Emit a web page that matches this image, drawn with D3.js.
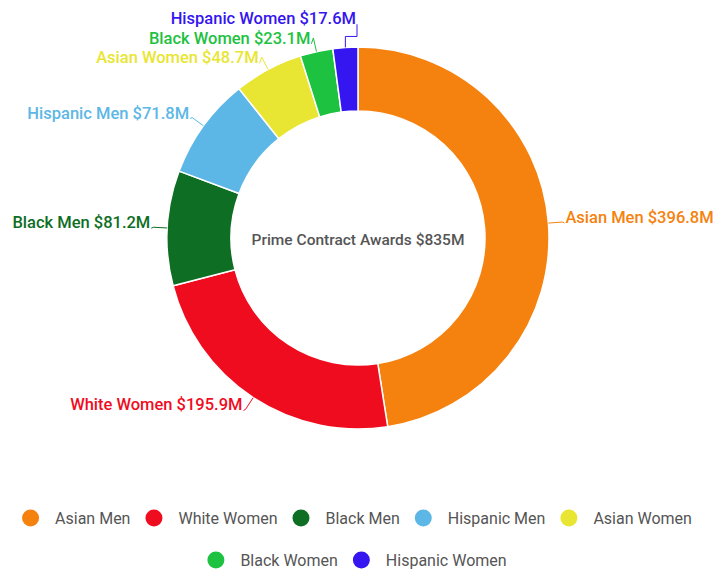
<!DOCTYPE html>
<html>
<head>
<meta charset="utf-8">
<script src="https://cdn.jsdelivr.net/npm/d3@7"></script>
<style>
  body { margin: 0; background: #fff; }
  svg { display: block; font-family: Roboto, "Noto Sans", sans-serif; }
</style>
</head>
<body>
<div id="chart"></div>
<script>
var groups = ["Asian Men", "White Women", "Black Men", "Hispanic Men", "Asian Women", "Black Women", "Hispanic Women"];
var awards = [396.8, 195.9, 81.2, 71.8, 48.7, 23.1, 17.6];
var colors = ["#f5820f", "#f00c1f", "#0e6e23", "#5db7e6", "#e8e632", "#1dc240", "#3516f0"];
var centerTitle = "Prime Contract Awards $835M";

var width = 714, height = 572;
var cx = 358, cy = 238;
var outerR = 191, innerR = 127, labelR = 205;

var svg = d3.select('#chart').append('svg')
	.attr('width', width).attr('height', height);

var color = d3.scaleOrdinal().domain(groups).range(colors);

var pie = d3.pie().sort(null).value(function(d) { return d.value; });
var arcs = pie(groups.map(function(g, i) { return {name: g, value: awards[i]}; }));
var arc = d3.arc().innerRadius(innerR).outerRadius(outerR);

var g = svg.append('g').attr('transform', 'translate(' + cx + ',' + cy + ')');

g.selectAll('path.slice').data(arcs).enter().append('path')
	.attr('class', 'slice')
	.attr('d', arc)
	.attr('fill', function(d) { return color(d.data.name); })
	.attr('stroke', '#fff')
	.attr('stroke-width', 1.5);

g.append('text')
	.attr('text-anchor', 'middle')
	.attr('y', 7)
	.attr('fill', '#555')
	.style('font-size', '15.5px')
	.style('font-weight', 500)
	.text(centerTitle);

// label anchors
var labels = arcs.map(function(d) {
	var a = (d.startAngle + d.endAngle) / 2;
	var p1 = [outerR * Math.sin(a), -outerR * Math.cos(a)];
	var p2 = [labelR * Math.sin(a), -labelR * Math.cos(a)];
	return {d: d, a: a, p1: p1, p2: p2, right: Math.sin(a) >= 0, y: p2[1] + 1};
});

// spread overlapping labels on each side, clusters centred on their anchors
var gap = 19.5;
[true, false].forEach(function(side) {
	var ls = labels.filter(function(l) { return l.right === side; })
		.sort(function(a, b) { return a.y - b.y; });
	var clusters = ls.map(function(l) { return {items: [l], mean: l.y}; });
	var merged = true;
	while (merged) {
		merged = false;
		for (var i = 0; i < clusters.length - 1; i++) {
			var c = clusters[i], n = clusters[i + 1];
			var cEnd = c.mean + (c.items.length - 1) * gap / 2;
			var nStart = n.mean - (n.items.length - 1) * gap / 2;
			if (nStart - cEnd < gap) {
				var items = c.items.concat(n.items);
				clusters.splice(i, 2, {items: items, mean: d3.mean(items, function(l) { return l.p2[1] + 1; })});
				merged = true;
				break;
			}
		}
	}
	clusters.forEach(function(c) {
		var start = c.mean - (c.items.length - 1) * gap / 2;
		c.items.forEach(function(l, i) { l.y = start + i * gap; });
	});
});

labels.forEach(function(l) {
	var pushedAbove = Math.abs(l.y) > labelR && l.y < 0;
	l.x = pushedAbove ? -1 : l.p2[0] + (l.right ? 2 : -2);
	var pts;
	if (pushedAbove) {
		pts = [l.p1, [l.p1[0], l.p2[1] + 3], [l.x, l.p2[1] + 3], [l.x, l.y]];
	} else {
		pts = [l.p1, l.p2, [l.x, l.y]];
	}
	l.pts = pts;
});

g.selectAll('polyline.leader').data(labels).enter().append('polyline')
	.attr('class', 'leader')
	.attr('points', function(l) { return l.pts.map(function(p) { return p.join(','); }).join(' '); })
	.attr('fill', 'none')
	.attr('stroke', function(l) { return color(l.d.data.name); })
	.attr('stroke-width', 1);

g.selectAll('text.label').data(labels).enter().append('text')
	.attr('class', 'label')
	.attr('x', function(l) { return l.x + (l.right ? 1 : -1); })
	.attr('y', function(l) { return l.y; })
	.attr('text-anchor', function(l) { return l.right ? 'start' : 'end'; })
	.attr('fill', function(l) { return color(l.d.data.name); })
	.style('font-size', '16.5px')
	.style('font-weight', 500)
	.text(function(l) { return l.d.data.name + ' $' + l.d.data.value.toFixed(1) + 'M'; });

// legend
var legendRows = [groups.slice(0, 5), groups.slice(5)];
var rowY = [518, 560];
legendRows.forEach(function(row, ri) {
	var lg = svg.append('g');
	var x = 0;
	row.forEach(function(name) {
		var item = lg.append('g').attr('transform', 'translate(' + x + ',0)');
		item.append('circle').attr('cx', 8.5).attr('cy', 0).attr('r', 8.5).attr('fill', color(name));
		var t = item.append('text').attr('x', 33).attr('y', 5.5)
			.attr('fill', '#555').style('font-size', '16px').text(name);
		x += 33 + t.node().getComputedTextLength() + 15;
	});
	var w = x - 15;
	lg.attr('transform', 'translate(' + ((width - w) / 2) + ',' + rowY[ri] + ')');
});
</script>
</body>
</html>
